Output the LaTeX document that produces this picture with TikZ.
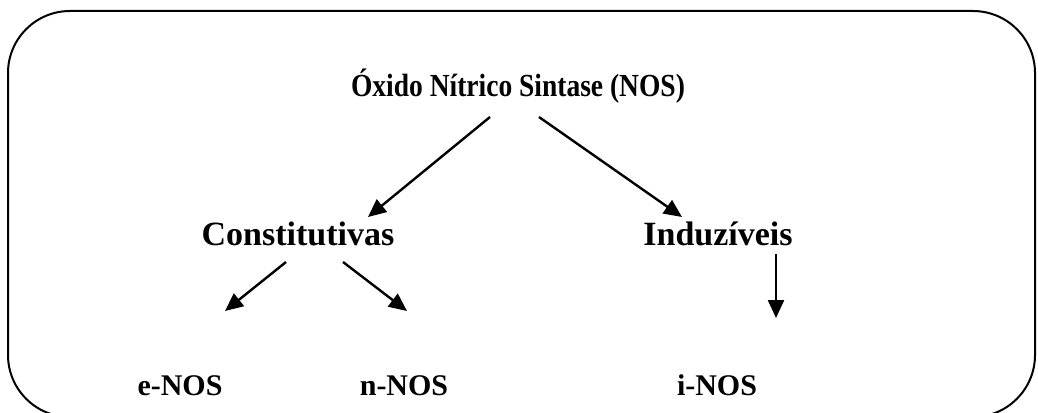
\documentclass[tikz,border=0pt]{standalone}
\usepackage{fontspec}
\setmainfont{Liberation Serif}
\usetikzlibrary{arrows.meta}

\newcommand{\tall}[1]{\scalebox{1}[1.17]{#1}}

\begin{document}
\begin{tikzpicture}[x=1pt,y=-1pt,
    lvla/.style={font=\bfseries\fontsize{27.5}{30}\selectfont, anchor=base},
    lvlb/.style={font=\bfseries\fontsize{34}{38}\selectfont, anchor=base},
    lvlc/.style={font=\bfseries\fontsize{30}{34}\selectfont, anchor=base},
    arr/.style={line width=2.4pt, -{Triangle[length=18pt,width=16pt]}}]
    \useasboundingbox (0,0) rectangle (1038,412);

    %frame
    \draw[line width=2pt, rounded corners=62pt] (8,11) rectangle (1035,417);

    %nodes
    \node[lvla] (nos) at (518,96) {\tall{Óxido Nítrico Sintase (NOS)}};
    \node[lvlb] (const) at (298,245) {Constitutivas};
    \node[lvlb] (induz) at (718,245) {Induzíveis};
    \node[lvlc] (enos) at (180,395) {e-NOS};
    \node[lvlc] (nnos) at (404,395) {n-NOS};
    \node[lvlc] (inos) at (717,395) {i-NOS};

    %arrow ends
    \coordinate (nosL) at (490,117); \coordinate (constT) at (368,217);
    \coordinate (nosR) at (539,117); \coordinate (induzT) at (682,217);
    \coordinate (constL) at (286,262); \coordinate (enosT) at (225,311);
    \coordinate (constR) at (343,262); \coordinate (nnosT) at (407,311);
    \coordinate (induzB) at (776,254); \coordinate (inosT) at (776,318);

    %arrows
    \draw[arr] (nosL) -- (constT);
    \draw[arr] (nosR) -- (induzT);
    \draw[arr] (constL) -- (enosT);
    \draw[arr] (constR) -- (nnosT);
    \draw[arr] (induzB) -- (inosT);
\end{tikzpicture}
\end{document}
